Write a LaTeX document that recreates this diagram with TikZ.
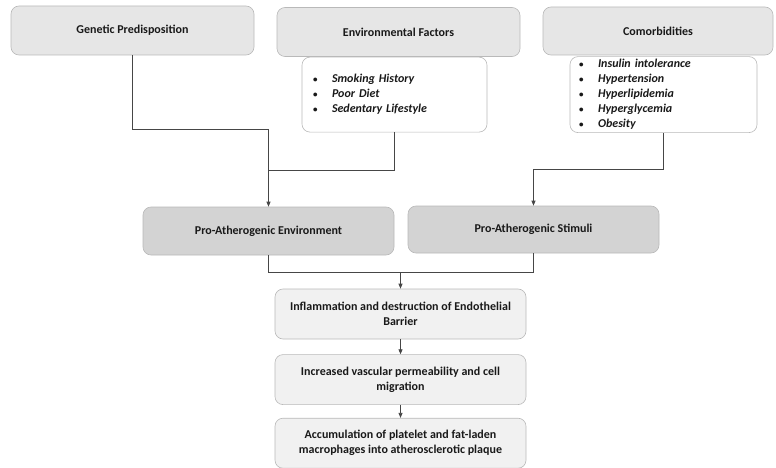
\documentclass[tikz,border=0pt]{standalone}
\usepackage{fontspec}
\setmainfont{Carlito}
\usetikzlibrary{arrows.meta, positioning, calc}
\definecolor{hdGray}{RGB}{230,230,230}
\definecolor{midGray}{RGB}{211,211,211}
\definecolor{lowGray}{RGB}{241,241,241}
\definecolor{bdGray}{RGB}{185,185,185}
\definecolor{lnGray}{RGB}{70,70,70}
\definecolor{txGray}{RGB}{25,25,25}
\newcommand{\bitem}[1]{\makebox[19pt][l]{\scalebox{0.75}{\textbullet}}\textit{#1}}
\tikzset{
  box/.style={rectangle, rounded corners=8pt, inner sep=0pt,
    draw=bdGray, line width=0.6pt, text=txGray, align=center,
    font=\fontsize{12}{15}\selectfont\bfseries},
  headN/.style={box, fill=hdGray, minimum width=243pt, minimum height=49pt},
  listN/.style={box, fill=white, align=left, minimum height=75pt},
  midN/.style={box, fill=midGray, minimum width=251pt, minimum height=48pt},
  lowN/.style={box, fill=lowGray, minimum width=251pt, minimum height=50pt},
  ln/.style={line width=0.8pt, color=lnGray},
  arr/.style={ln, -{Triangle[length=5pt,width=4pt]}},
}
\begin{document}
\begin{tikzpicture}[x=1pt, y=-1pt]
\useasboundingbox (0,0) rectangle (776,468);

%% ── RISK FACTORS ─────────────────────────────────────────
\node[headN] (gen) at (132.5,30.5) {Genetic Predisposition};
\node[headN] (envf) at (398.5,32) {Environmental Factors};
\node[headN, minimum width=230pt, minimum height=48pt] (comb) at (658,31) {Comorbidities};

\node[listN, below=0pt of envf, xshift=-4pt, minimum width=185pt, text width=163pt] (envlist)
  {\bitem{Smoking History}\\
   \bitem{Poor Diet}\\
   \bitem{Sedentary Lifestyle}};
\node[listN, below=1pt of comb, xshift=5.5pt, minimum width=187pt, text width=169pt,
      minimum height=76pt] (comlist)
  {\bitem{Insulin intolerance}\\
   \bitem{Hypertension}\\
   \bitem{Hyperlipidemia}\\
   \bitem{Hyperglycemia}\\
   \bitem{Obesity}};

%% ── PRO-ATHEROGENIC ──────────────────────────────────────
\node[midN] (proenv) at (268.5,231) {Pro-Atherogenic Environment};
\node[midN, minimum height=47pt] (prostim) at (533.5,229.5) {Pro-Atherogenic Stimuli};

\coordinate (jG) at (proenv.north |- 0,129);
\coordinate (jE) at (proenv.north |- 0,170);
\coordinate (jC) at (prostim.north |- 0,169);
\draw[arr] (gen.south) |- (jG) -- (proenv.north);
\draw[ln] (envlist.south) |- (jE);
\draw[arr] (comlist.south) |- (jC) -- (prostim.north);

%% ── VASCULAR CASCADE ─────────────────────────────────────
\node[lowN] (infl) at (400.5,314)
  {Inflammation and destruction of Endothelial\\Barrier};
\node[lowN, below=15pt of infl] (incr)
  {Increased vascular permeability and cell\\migration};
\node[lowN, below=13pt of incr] (accum)
  {Accumulation of platelet and fat-laden\\macrophages into atherosclerotic plaque};

\coordinate (jM) at (infl.north |- 0,272);
\draw[ln] (proenv.south) |- (jM);
\draw[ln] (prostim.south) |- (jM);
\draw[arr] (jM) -- (infl.north);
\draw[arr] (infl) -- (incr);
\draw[arr] (incr) -- (accum);

\end{tikzpicture}
\end{document}
